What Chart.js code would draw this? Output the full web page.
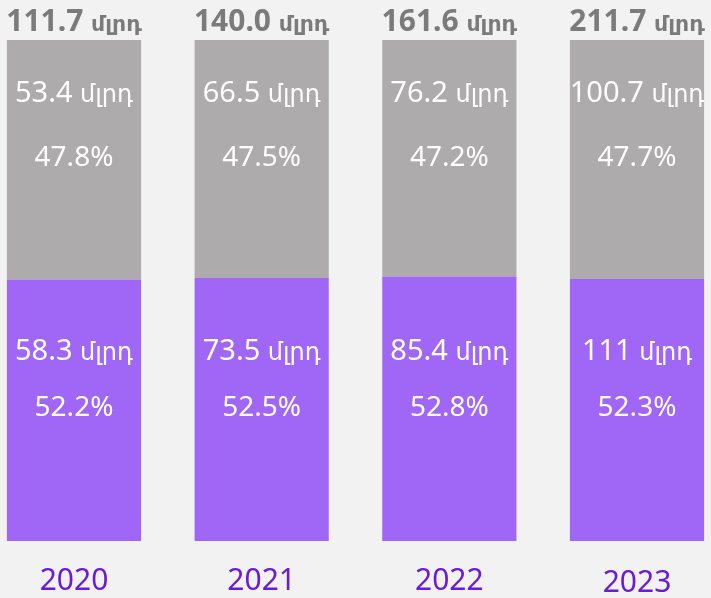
<!DOCTYPE html>
<html>
<head>
<meta charset="utf-8">
<script src="https://cdn.jsdelivr.net/npm/chart.js@4/dist/chart.umd.min.js"></script>
<style>
  html, body { margin: 0; padding: 0; background: #f2f2f2; overflow: hidden; }
  #wrap { position: relative; width: 711px; height: 598px; }
</style>
</head>
<body>
<div id="wrap"><canvas id="c" width="711" height="598"></canvas></div>
<script>
const years = ['2020', '2021', '2022', '2023'];
const sharePurple = [52.2, 52.5, 52.8, 52.3];
const shareGray = [47.8, 47.5, 47.2, 47.7];
const amountPurple = ['58.3', '73.5', '85.4', '111'];
const amountGray = ['53.4', '66.5', '76.2', '100.7'];
const totals = ['111.7', '140.0', '161.6', '211.7'];
const unit = 'մլրդ';

const FONT = '"Noto Sans", "DejaVu Sans", sans-serif';

function drawMixed(ctx, x, y, big, bigFont, small, smallFont, color) {
  ctx.save();
  ctx.fillStyle = color;
  ctx.textBaseline = 'alphabetic';
  ctx.textAlign = 'left';
  ctx.font = bigFont;
  const w1 = ctx.measureText(big + ' ').width;
  ctx.font = smallFont;
  const w2 = ctx.measureText(small).width;
  let sx = x - (w1 + w2) / 2;
  ctx.font = bigFont;
  ctx.fillText(big + ' ', sx, y);
  ctx.font = smallFont;
  ctx.fillText(small, sx + w1, y);
  ctx.restore();
}

const labelPlugin = {
  id: 'labels',
  afterDatasetsDraw(chart) {
    const ctx = chart.ctx;
    const area = chart.chartArea;
    const xs = chart.scales.x;
    const mP = chart.getDatasetMeta(0).data;
    const mG = chart.getDatasetMeta(1).data;
    years.forEach((yr, i) => {
      const xp = mP[i].x;
      const xg = mG[i].x;
      // purple segment labels
      drawMixed(ctx, xp, area.bottom - 181, amountPurple[i], '29px ' + FONT, unit, '24px ' + FONT, '#ffffff');
      ctx.save();
      ctx.fillStyle = '#ffffff';
      ctx.font = '28px ' + FONT;
      ctx.textAlign = 'center';
      ctx.textBaseline = 'alphabetic';
      ctx.fillText(sharePurple[i].toFixed(1) + '%', xp, area.bottom - 125);
      ctx.restore();
      // gray segment labels
      const topY = mG[i].y;
      drawMixed(ctx, xg, topY + 62, amountGray[i], '29px ' + FONT, unit, '24px ' + FONT, '#ffffff');
      ctx.save();
      ctx.fillStyle = '#ffffff';
      ctx.font = '28px ' + FONT;
      ctx.textAlign = 'center';
      ctx.fillText(shareGray[i].toFixed(1) + '%', xg, topY + 126);
      ctx.restore();
      // totals
      drawMixed(ctx, xg, topY - 9, totals[i], 'bold 30px ' + FONT, unit, 'bold 22px ' + FONT, '#7b7b7b');
      // year labels (category axis)
      ctx.save();
      ctx.fillStyle = '#6a1bd6';
      ctx.font = '30px ' + FONT;
      ctx.textAlign = 'center';
      ctx.textBaseline = 'middle';
      ctx.fillText(xs.getLabelForValue(i), xs.getPixelForTick(i), area.bottom + 40 + (i === 3 ? 2 : 0));
      ctx.restore();
    });
  }
};

new Chart(document.getElementById('c'), {
  type: 'bar',
  data: {
    labels: years,
    datasets: [
      { data: sharePurple, backgroundColor: '#a066f5', categoryPercentage: 1, barPercentage: 0.715, clip: false },
      { data: shareGray, backgroundColor: '#adabac', categoryPercentage: 1, barPercentage: 0.715, clip: false }
    ]
  },
  options: {
    responsive: false,
    animation: false,
    devicePixelRatio: 1,
    layout: { padding: { left: 74, right: 74, top: 40, bottom: 49 } },
    plugins: { legend: { display: false }, tooltip: { enabled: false } },
    scales: {
      x: {
        stacked: true,
        offset: false,
        grid: { display: false },
        border: { display: false },
        ticks: { display: false }
      },
      y: {
        stacked: true,
        min: 0,
        max: 100,
        display: false
      }
    }
  },
  plugins: [labelPlugin]
});
</script>
</body>
</html>
